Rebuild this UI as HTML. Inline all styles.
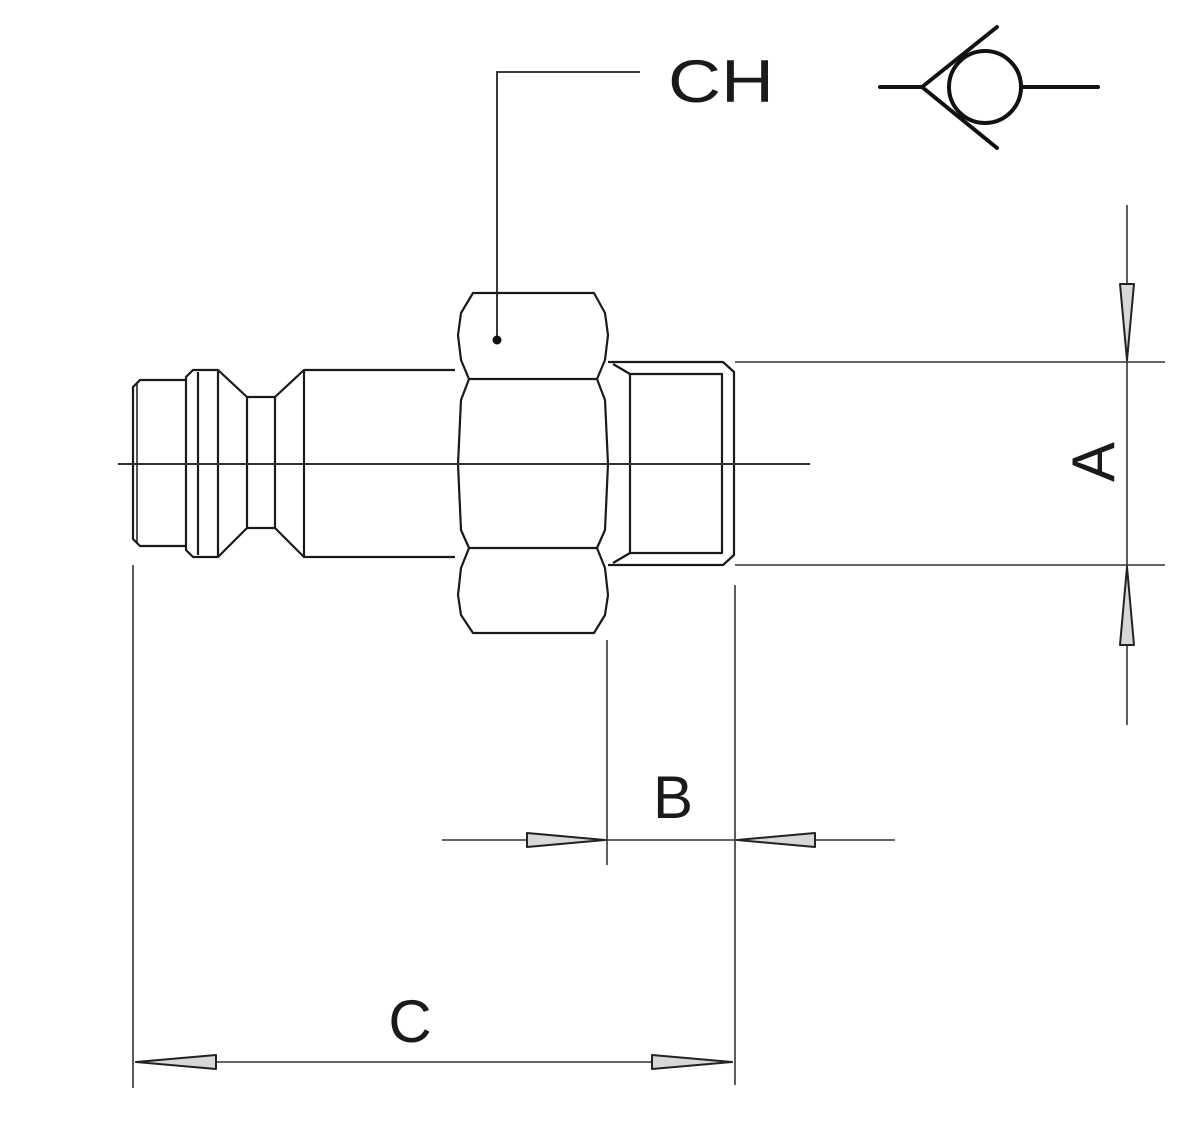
<!DOCTYPE html>
<html><head><meta charset="utf-8"><style>
html,body{margin:0;padding:0;background:#fff;}
svg{display:block;}
text{font-family:"Liberation Sans",sans-serif;fill:#1a1a1a;}
</style></head><body>
<svg width="1200" height="1128" viewBox="0 0 1200 1128" xmlns="http://www.w3.org/2000/svg">
<g fill="none" stroke="#1a1a1a" stroke-width="2.2" stroke-linejoin="round">
<path d="M186,380 L140,380 L133,387 L133,539 L140,546 L186,546"/>
<line x1="137" y1="383" x2="137" y2="543" stroke-width="1.5"/>
<path d="M186,380 L186,377 L193,370 L218,370 L247,397 L275,397 L304,370 L455,370"/>
<path d="M186,546 L186,550 L193,557 L218,557 L247,528 L275,528 L304,557 L455,557"/>
<line x1="186" y1="380" x2="186" y2="546"/>
<line x1="198" y1="372" x2="198" y2="555"/>
<line x1="218" y1="370" x2="218" y2="557"/>
<line x1="247" y1="397" x2="247" y2="528"/>
<line x1="275" y1="397" x2="275" y2="528"/>
<line x1="304" y1="370" x2="304" y2="557"/>
<path d="M473,293 L594,293 L605,313 L608,335 L605,360 L597,379 L605,400 L608,464 L605,530 L597,548 L605,568 L608,595 L605,615 L594,633 L473,633 L461,615 L458,595 L461,568 L469,548 L461,530 L458,464 L461,400 L469,379 L461,360 L458,335 L461,313 Z"/>
<line x1="469" y1="379" x2="597" y2="379"/>
<line x1="469" y1="548" x2="597" y2="548"/>
<path d="M608,362 L723,362 L734,372 L734,555 L723,565 L608,565"/>
<path d="M613,364 L630,374 L722,374 L722,553 L630,553 L613,563"/>
<line x1="630" y1="374" x2="630" y2="553"/>
</g>
<line x1="118" y1="464" x2="810" y2="464" stroke="#333" stroke-width="2"/>
<g stroke="#222" stroke-width="1.8" fill="none">
<polyline points="497,340 497,72 640,72"/>
</g>
<circle cx="497" cy="340" r="4.5" fill="#111"/>
<text x="668" y="102" font-size="60" textLength="106" lengthAdjust="spacingAndGlyphs">CH</text>
<g stroke="#111" stroke-width="4" fill="none" stroke-linecap="round">
<line x1="880" y1="87" x2="922" y2="87"/>
<line x1="1022" y1="87" x2="1098" y2="87"/>
<circle cx="985" cy="87" r="36"/>
<line x1="922" y1="87" x2="997" y2="27"/>
<line x1="922" y1="87" x2="997" y2="148"/>
</g>
<g stroke="#333" stroke-width="1.6" fill="none">
<line x1="1127" y1="205" x2="1127" y2="725"/>
<line x1="735" y1="362" x2="1165" y2="362"/>
<line x1="735" y1="565" x2="1165" y2="565"/>
<line x1="607" y1="640" x2="607" y2="865"/>
<line x1="735" y1="585" x2="735" y2="1085"/>
<line x1="442" y1="840" x2="895" y2="840"/>
<line x1="133" y1="565" x2="133" y2="1088"/>
<line x1="135" y1="1062" x2="733" y2="1062"/>
</g>
<g stroke="#222" stroke-width="2" fill="#d8d8d8" stroke-linejoin="round">
<polygon points="1127,360 1120,284 1134,284"/>
<polygon points="1127,567 1120,645 1134,645"/>
<polygon points="605,840 527,833 527,847"/>
<polygon points="737,840 815,833 815,847"/>
<polygon points="136,1062 216,1055 216,1069"/>
<polygon points="732,1062 652,1055 652,1069"/>
</g>
<text x="0" y="0" font-size="60" transform="translate(1114,462) rotate(-90)" text-anchor="middle">A</text>
<text x="673" y="818" font-size="60" text-anchor="middle">B</text>
<text x="410" y="1042" font-size="60" text-anchor="middle">C</text>
</svg>
</body></html>
